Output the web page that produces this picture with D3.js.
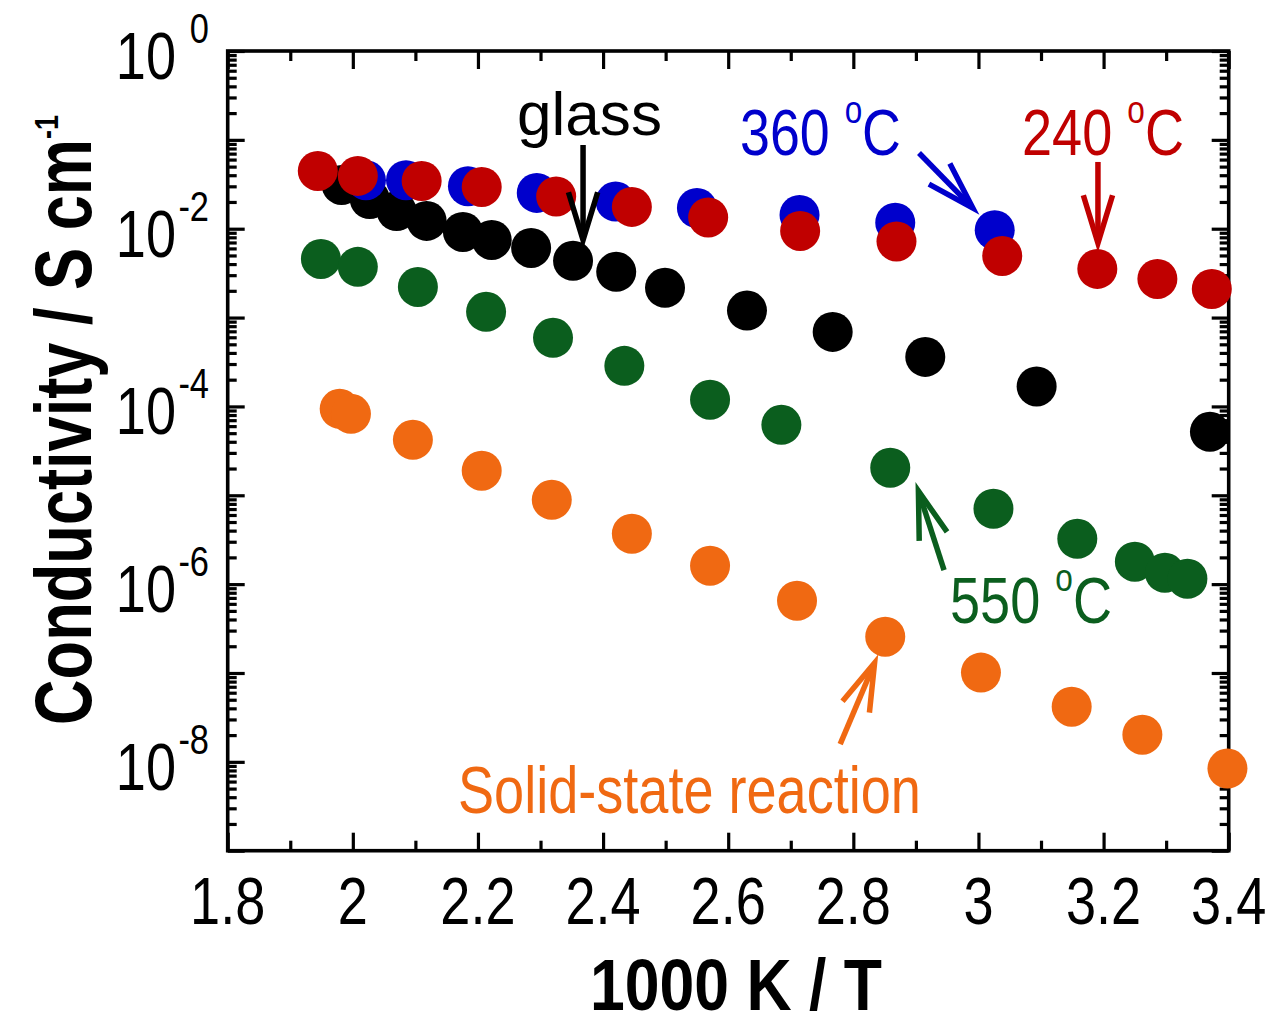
<!DOCTYPE html>
<html><head><meta charset="utf-8">
<script src="https://cdn.jsdelivr.net/npm/d3@7"></script>
<style>body{margin:0;background:#fff}svg{display:block}text{font-family:"Liberation Sans",Arial,sans-serif}</style>
</head><body>
<svg id="chart" width="1269" height="1027"></svg>
<script>
// ---------- data ----------
const xTickValues = [1.8, 2, 2.2, 2.4, 2.6, 2.8, 3, 3.2, 3.4];
const xTickLabels = ["1.8", "2", "2.2", "2.4", "2.6", "2.8", "3", "3.2", "3.4"];
const yTickExponents = [0, -2, -4, -6, -8];
const yTickExpLabels = ["0", "-2", "-4", "-6", "-8"];

// glass (black)
const glassX = [1.982, 2.027, 2.070, 2.118, 2.176, 2.222, 2.285, 2.352, 2.421, 2.499, 2.630, 2.767, 2.915, 3.093, 3.370];
const glassY = [0.0311, 0.0216, 0.0158, 0.01225, 0.0092, 0.00748, 0.00608, 0.00435, 0.00327, 0.00216, 0.00120, 0.00069, 0.000361, 0.000168, 5.18e-5];
// 360 C (blue)
const c360X = [2.021, 2.085, 2.184, 2.294, 2.420, 2.550, 2.714, 2.867, 3.026];
const c360Y = [0.0352, 0.0352, 0.0301, 0.0253, 0.0202, 0.0171, 0.0143, 0.0117, 0.00962];
// 240 C (red)
const c240X = [1.944, 2.008, 2.110, 2.206, 2.325, 2.446, 2.568, 2.715, 2.869, 3.038, 3.190, 3.286, 3.373];
const c240Y = [0.0447, 0.0393, 0.0345, 0.0295, 0.0231, 0.0176, 0.0134, 0.00944, 0.00719, 0.00494, 0.00353, 0.00272, 0.00210];
// 550 C (green)
const c550X = [1.949, 2.008, 2.104, 2.213, 2.320, 2.434, 2.571, 2.685, 2.859, 3.024, 3.158, 3.250, 3.298, 3.334];
const c550Y = [0.00457, 0.00372, 0.00221, 0.00116, 5.92e-4, 2.86e-4, 1.19e-4, 6.21e-5, 2.04e-5, 7.05e-6, 3.24e-6, 1.79e-6, 1.34e-6, 1.15e-6];
// solid-state reaction (orange)
const ssrX = [1.979, 1.997, 2.096, 2.206, 2.318, 2.446, 2.571, 2.710, 2.851, 3.004, 3.149, 3.262, 3.398];
const ssrY = [9.4e-5, 8.26e-5, 4.21e-5, 1.89e-5, 8.89e-6, 3.69e-6, 1.61e-6, 6.5e-7, 2.56e-7, 1.01e-7, 4.18e-8, 2.02e-8, 8.4e-9];

// annotation arrows in data units: [startX, startY, tipX, tipY]
const arrowGlass = [2.368, 0.0875, 2.368, 0.00746];
const arrow360 = [2.905, 0.0711, 2.991, 0.0171];
const arrow240 = [3.191, 0.0564, 3.191, 0.0069];
const arrow550 = [2.945, 1.44e-6, 2.904, 1.12e-5];
const arrowSSR = [2.779, 1.58e-8, 2.834, 1.30e-7];

// ---------- styles / layout ----------
const COL = {glass: "#000000", c360: "#0000cc", c240: "#c00000", c550: "#0b5e1e", ssr: "#f06912"};
const L = 227.7, R = 1228.7, T = 51, B = 850.7;
const RADIUS = 20;

const svg = d3.select("#chart");
const x = d3.scaleLinear().domain([1.8, 3.4]).range([L, R]);
const y = d3.scaleLog().domain([1e-9, 1]).range([B, T]);

// ---------- axes (inward ticks on all four sides) ----------
const minorX = d3.range(19, 34, 2).map(v => v / 10);
const minorY = [];
for (let d = -9; d < 0; d++) for (let k = 2; k <= 9; k++) minorY.push(k * Math.pow(10, d));
const majorY = d3.range(-9, 1).map(e => Math.pow(10, e));

function styleAxis(g, w) {
  g.select(".domain").remove();
  g.selectAll(".tick line").attr("stroke", "#000").attr("stroke-width", w);
  g.selectAll(".tick text").remove();
}
const axG = svg.append("g");
[[d3.axisBottom, B, -18, xTickValues], [d3.axisBottom, B, -10, minorX],
 [d3.axisTop, T, -18, xTickValues], [d3.axisTop, T, -10, minorX]].forEach(([fn, pos, size, vals]) => {
  axG.append("g").attr("transform", `translate(0,${pos})`)
    .call(fn(x).tickValues(vals).tickSize(size).tickFormat(""))
    .call(g => styleAxis(g, 3.2));
});
[[d3.axisLeft, L, -17, majorY], [d3.axisLeft, L, -9, minorY],
 [d3.axisRight, R, -17, majorY], [d3.axisRight, R, -9, minorY]].forEach(([fn, pos, size, vals]) => {
  axG.append("g").attr("transform", `translate(${pos},0)`)
    .call(fn(y).tickValues(vals).tickSize(size).tickFormat(""))
    .call(g => styleAxis(g, 3.2));
});
svg.append("rect").attr("x", L).attr("y", T).attr("width", R - L).attr("height", B - T)
  .attr("fill", "none").attr("stroke", "#000").attr("stroke-width", 3.6);

// tick labels
const SX = 0.82;
xTickValues.forEach((v, i) => {
  svg.append("text").attr("text-anchor", "middle").attr("font-size", 66).attr("fill", "#000")
    .attr("transform", `translate(${x(v)},924) scale(${SX},1)`).text(xTickLabels[i]);
});
yTickExponents.forEach((e, i) => {
  const ty = y(Math.pow(10, e));
  svg.append("text").attr("text-anchor", "end").attr("font-size", 66).attr("fill", "#000")
    .attr("transform", `translate(176,${ty + 28}) scale(${SX},1)`).text("10");
  svg.append("text").attr("text-anchor", "end").attr("font-size", 42).attr("fill", "#000")
    .attr("transform", `translate(209,${ty - 8}) scale(${SX},1)`).text(yTickExpLabels[i]);
});

// axis titles
function fitH(sel, left, baseline, width) {
  const bb = sel.node().getBBox();
  const s = width / bb.width;
  sel.attr("transform", `translate(${left - bb.x * s},${baseline}) scale(${s},1)`);
}
const xTitle = svg.append("text").attr("font-size", 73).attr("font-weight", "bold").attr("fill", "#000").text("1000 K / T");
fitH(xTitle, 590, 1010, 292);

const yTitle = svg.append("text").attr("font-size", 80).attr("font-weight", "bold").attr("fill", "#000");
yTitle.append("tspan").text("Conductivity / S cm");
yTitle.append("tspan").attr("font-size", 34).attr("dy", -33).text("-1");
{
  const bb = yTitle.node().getBBox();
  const s = 610 / bb.width;
  yTitle.attr("transform", `translate(91,${725}) rotate(-90) scale(${s},1) translate(${-bb.x},0)`);
}

// ---------- data points ----------
const series = [
  {xs: c550X, ys: c550Y, c: COL.c550},
  {xs: ssrX, ys: ssrY, c: COL.ssr},
  {xs: glassX, ys: glassY, c: COL.glass},
  {xs: c360X, ys: c360Y, c: COL.c360},
  {xs: c240X, ys: c240Y, c: COL.c240}
];
series.forEach(s => {
  svg.append("g").selectAll("circle").data(s.xs.map((v, i) => [v, s.ys[i]])).join("circle")
    .attr("cx", d => x(d[0])).attr("cy", d => y(d[1])).attr("r", RADIUS).attr("fill", s.c);
});

// ---------- annotations ----------
function arrow(a, color) {
  const sx = x(a[0]), sy = y(a[1]), tx = x(a[2]), ty = y(a[3]);
  const len = Math.hypot(sx - tx, sy - ty);
  const ux = (sx - tx) / len, uy = (sy - ty) / len;
  const ang = 17 * Math.PI / 180, AL = 50;
  const rot = (t) => [tx + AL * (ux * Math.cos(t) - uy * Math.sin(t)), ty + AL * (ux * Math.sin(t) + uy * Math.cos(t))];
  const a1 = rot(ang), a2 = rot(-ang);
  const g = svg.append("g").attr("fill", "none").attr("stroke", color).attr("stroke-width", 5.5);
  g.append("line").attr("x1", sx).attr("y1", sy).attr("x2", tx + ux * 3).attr("y2", ty + uy * 3);
  g.append("path").attr("d", `M${a1[0]},${a1[1]}L${tx},${ty}L${a2[0]},${a2[1]}`).attr("stroke-linejoin", "miter").attr("stroke-miterlimit", 10);
}
arrow(arrowGlass, COL.glass);
arrow(arrow360, COL.c360);
arrow(arrow240, COL.c240);
arrow(arrow550, COL.c550);
arrow(arrowSSR, COL.ssr);

function degLabel(num, color, left, baseline, width) {
  const t = svg.append("text").attr("font-size", 65).attr("fill", color);
  t.append("tspan").text(num + " ");
  t.append("tspan").attr("font-size", 38).attr("dy", -32).text("o");
  t.append("tspan").attr("dy", 32).text("C");
  fitH(t, left, baseline, width);
}
const glassLabel = svg.append("text").attr("font-size", 62).attr("fill", COL.glass).text("glass");
fitH(glassLabel, 517, 135, 145);
degLabel("360", COL.c360, 740, 155, 161);
degLabel("240", COL.c240, 1022, 155, 162);
degLabel("550", COL.c550, 950, 623, 162);
const ssrLabel = svg.append("text").attr("font-size", 66).attr("fill", COL.ssr).text("Solid-state reaction");
fitH(ssrLabel, 458, 813, 463);
</script>
</body></html>
